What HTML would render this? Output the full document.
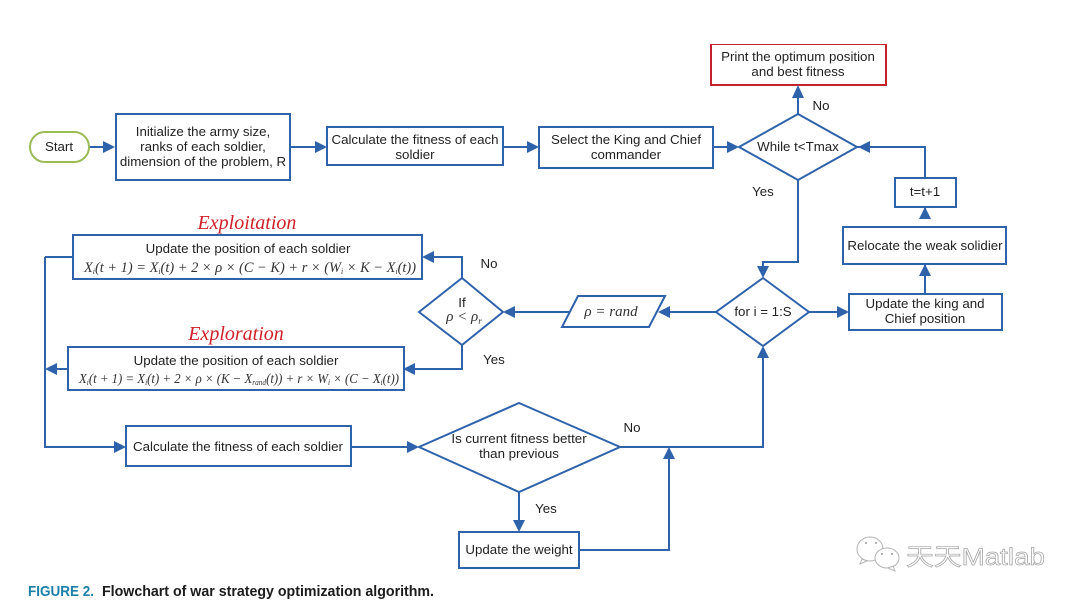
<!DOCTYPE html>
<html>
<head>
<meta charset="utf-8">
<style>
html,body{margin:0;padding:0;background:#fff;width:1080px;height:603px;overflow:hidden}
svg{display:block}
text{font-family:"Liberation Sans",sans-serif;font-size:13.3px;fill:#222;text-anchor:middle}
.b{fill:#fff;stroke:#2e62ab;stroke-width:2}
.l{fill:none;stroke:#2e62ab;stroke-width:2}
.a{fill:#2e62ab;stroke:none}
.m{font-family:"Liberation Serif",serif;font-style:italic;font-size:15px;fill:#333}
.r{font-family:"Liberation Serif",serif;font-style:italic;font-size:20px;fill:#d0202a}
.w{font-family:"Liberation Sans","Noto Sans CJK SC",sans-serif;font-size:24px;fill:#fff;stroke:#a5a5a5;stroke-width:.7px;text-anchor:start}
</style>
</head>
<body>
<svg width="1080" height="603" viewBox="0 0 1080 603" xmlns="http://www.w3.org/2000/svg">
<defs><filter id="s" x="0" y="0" width="100%" height="100%"><feGaussianBlur stdDeviation="0.35"/></filter></defs>
<g filter="url(#s)">
<!-- connectors -->
<path class="l" d="M89 147H104M290 147H316M503 147H528M713 147H728M798 114V97M857 147H925V178M925 207V218M925 264V280M925 294V280M798 180V262H763V267M809 312H838M716 312H668M570 312H515M462 278V257H432M462 345V369H414M68 369H55M45 257H73M45 257V447H115M351 447H408M620 447H763V357M519 492V521M579 550H669V458"/>
<!-- shapes -->
<rect x="30" y="132" width="59" height="30" rx="15" fill="#fff" stroke="#9bbb59" stroke-width="2"/>
<rect class="b" x="116" y="114" width="174" height="66"/>
<rect class="b" x="327" y="127" width="176" height="38"/>
<rect class="b" x="539" y="127" width="174" height="41"/>
<polygon class="b" points="798,114 857,147 798,180 739,147"/>
<rect x="711" y="44" width="175" height="41" fill="#fff" stroke="#c4202c" stroke-width="2"/>
<rect class="b" x="895" y="178" width="61" height="29"/>
<rect class="b" x="843" y="227" width="163" height="37"/>
<rect class="b" x="849" y="294" width="153" height="36"/>
<polygon class="b" points="763,278 809,312 763,346 716,312"/>
<polygon class="b" points="578,296 665,296 649,327 562,327"/>
<polygon class="b" points="462,278 503,312 462,345 419,312"/>
<rect class="b" x="73" y="235" width="349" height="44"/>
<rect class="b" x="68" y="347" width="336" height="43"/>
<rect class="b" x="126" y="426" width="225" height="40"/>
<polygon class="b" points="519,403 620,447 519,492 419,447"/>
<rect class="b" x="459" y="532" width="120" height="36"/>
<!-- arrowheads -->
<polygon class="a" points="115,147 103,141 103,153"/>
<polygon class="a" points="327,147 315,141 315,153"/>
<polygon class="a" points="539,147 527,141 527,153"/>
<polygon class="a" points="739,147 727,141 727,153"/>
<polygon class="a" points="798,85 792,98 804,98"/>
<polygon class="a" points="858,147 870,141 870,153"/>
<polygon class="a" points="925,207 919,219 931,219"/>
<polygon class="a" points="925,264 919,276 931,276"/>
<polygon class="a" points="763,278 757,266 769,266"/>
<polygon class="a" points="849,312 837,306 837,318"/>
<polygon class="a" points="658,312 670,306 670,318"/>
<polygon class="a" points="503,312 515,306 515,318"/>
<polygon class="a" points="422,257 434,251 434,263"/>
<polygon class="a" points="403,369 415,363 415,375"/>
<polygon class="a" points="45,369 57,363 57,375"/>
<polygon class="a" points="126,447 114,441 114,453"/>
<polygon class="a" points="419,447 407,441 407,453"/>
<polygon class="a" points="763,346 757,358 769,358"/>
<polygon class="a" points="669,447 663,459 675,459"/>
<polygon class="a" points="519,532 513,520 525,520"/>
<!-- labels -->
<text x="59" y="151">Start</text>
<text x="203" y="136">Initialize the army size,</text>
<text x="203" y="151">ranks of each soldier,</text>
<text x="203" y="166">dimension of the problem, R</text>
<text x="415" y="144">Calculate the fitness of each</text>
<text x="415" y="159">soldier</text>
<text x="626" y="144">Select the King and Chief</text>
<text x="626" y="159">commander</text>
<text x="798" y="151">While t&lt;Tmax</text>
<text x="798" y="61">Print the optimum position</text>
<text x="798" y="76">and best fitness</text>
<text x="821" y="110">No</text>
<text x="763" y="196">Yes</text>
<text x="925" y="196">t=t+1</text>
<text x="925" y="250">Relocate the weak solidier</text>
<text x="925" y="308">Update the king and</text>
<text x="925" y="323">Chief position</text>
<text x="763" y="316">for i = 1:S</text>
<text class="m" x="611" y="316">ρ = rand</text>
<text x="462" y="307">If</text>
<text class="m" x="464" y="321">ρ &lt; ρ<tspan font-size="9" dy="3">r</tspan></text>
<text x="489" y="268">No</text>
<text x="494" y="364">Yes</text>
<text class="r" x="247" y="229">Exploitation</text>
<text class="r" x="236" y="340">Exploration</text>
<text x="248" y="253">Update the position of each soldier</text>
<text class="m" x="250" y="272" textLength="332" lengthAdjust="spacingAndGlyphs">X<tspan font-size="8" dy="2">i</tspan><tspan dy="-2">(t + 1) = X</tspan><tspan font-size="8" dy="2">i</tspan><tspan dy="-2">(t) + 2 × ρ × (C − K) + r × (W</tspan><tspan font-size="8" dy="2">i</tspan><tspan dy="-2"> × K − X</tspan><tspan font-size="8" dy="2">i</tspan><tspan dy="-2">(t))</tspan></text>
<text x="236" y="365">Update the position of each soldier</text>
<text class="m" x="239" y="383" textLength="320" lengthAdjust="spacingAndGlyphs" style="font-size:14px">X<tspan font-size="8" dy="2">i</tspan><tspan dy="-2">(t + 1) = X</tspan><tspan font-size="8" dy="2">i</tspan><tspan dy="-2">(t) + 2 × ρ × (K − X</tspan><tspan font-size="8" dy="2">rand</tspan><tspan dy="-2">(t)) + r × W</tspan><tspan font-size="8" dy="2">i</tspan><tspan dy="-2"> × (C − X</tspan><tspan font-size="8" dy="2">i</tspan><tspan dy="-2">(t))</tspan></text>
<text x="238" y="451">Calculate the fitness of each soldier</text>
<text x="519" y="443">Is current fitness better</text>
<text x="519" y="458">than previous</text>
<text x="632" y="432">No</text>
<text x="546" y="513">Yes</text>
<text x="519" y="554">Update the weight</text>
<text x="28" y="596" style="text-anchor:start;font-size:15px;font-weight:bold;fill:#1f7fa8" textLength="66" lengthAdjust="spacingAndGlyphs">FIGURE 2.</text>
<text x="102" y="596" style="text-anchor:start;font-size:15px;font-weight:bold;fill:#1a1a1a" textLength="332" lengthAdjust="spacingAndGlyphs">Flowchart of war strategy optimization algorithm.</text>
<!-- watermark -->
<g fill="#fff" stroke="#b5b5b5" stroke-width="1">
<ellipse cx="870" cy="549" rx="13" ry="12"/>
<path d="M862 559l-2 5 7-3z"/>
<ellipse cx="887" cy="558" rx="12" ry="10"/>
<path d="M893 566l2 5-7-3z"/>
</g>
<g fill="#9a9a9a"><circle cx="866" cy="543" r="1"/><circle cx="876" cy="543" r="1"/><circle cx="882" cy="554" r="1"/><circle cx="892" cy="554" r="1"/></g>
<text class="w" x="906" y="565" textLength="139" lengthAdjust="spacingAndGlyphs">天天Matlab</text>
</g>
</svg>
</body>
</html>
